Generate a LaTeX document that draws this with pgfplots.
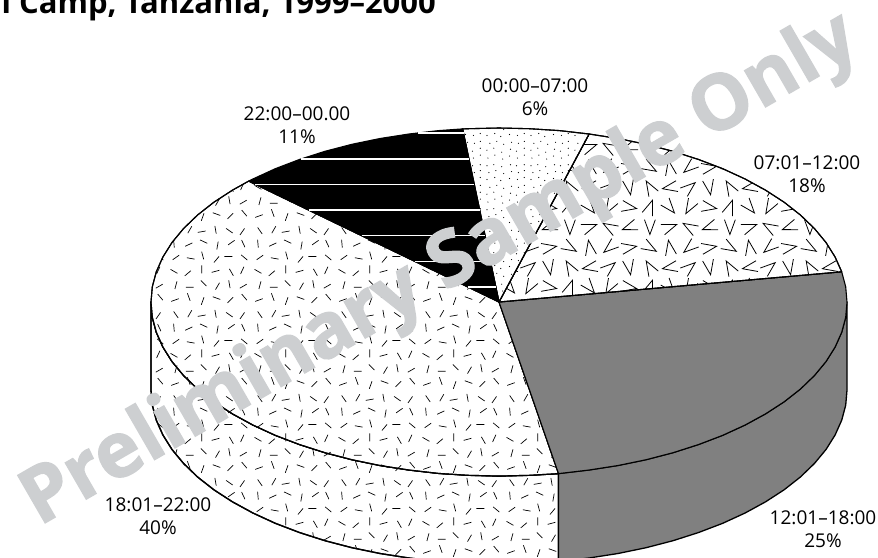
\documentclass[border=0pt]{standalone}
\usepackage{fontspec}
\setmainfont{Open Sans}
\newfontfamily\wmfont[BoldFeatures={FakeBold=1.6}]{Open Sans}
\usepackage{pgfplots}
\pgfplotsset{compat=1.18}
\usetikzlibrary{patterns}
\definecolor{wmgray}{HTML}{CDCFD1}

% short dashes (18:01-22:00)
\pgfdeclarepatternformonly{dashes}{\pgfpointorigin}{\pgfqpoint{84pt}{84pt}}{\pgfqpoint{84pt}{84pt}}{
  \pgfsetlinewidth{0.7pt}
  \foreach \x/\y/\a in {7/6/20,21/9/110,35/5/70,49/8/160,63/6/45,77/9/130,
    8/21/75,22/19/0,36/23/135,50/20/60,62/22/100,76/20/30,
    6/35/150,20/33/40,34/37/90,48/35/15,64/34/120,75/36/65,
    8/49/35,23/48/170,35/51/105,49/47/50,61/50/0,77/49/140,
    6/63/95,21/62/25,36/65/155,50/61/80,64/64/35,76/63/115,
    8/76/125,22/77/60,34/75/10,48/77/100,62/76/145,75/75/55}{
    \begin{pgfscope}
      \pgftransformshift{\pgfpoint{\x pt}{\y pt}}
      \pgftransformrotate{\a}
      \pgfpathmoveto{\pgfqpoint{-4pt}{0pt}}
      \pgfpathlineto{\pgfqpoint{4pt}{0pt}}
      \pgfusepath{stroke}
    \end{pgfscope}
  }
}
% open V marks (07:01-12:00)
\pgfdeclarepatternformonly{vmarks}{\pgfpointorigin}{\pgfqpoint{80pt}{80pt}}{\pgfqpoint{80pt}{80pt}}{
  \pgfsetlinewidth{0.8pt}
  \foreach \x/\y/\a in {10/10/90,30/10/200,50/10/330,70/10/20,
    10/30/250,30/30/130,50/30/60,70/30/170,
    10/50/300,30/50/10,50/50/220,70/50/100,
    10/70/150,30/70/280,50/70/40,70/70/190}{
    \begin{pgfscope}
      \pgftransformshift{\pgfpoint{\x pt}{\y pt}}
      \pgftransformrotate{\a}
      \pgfpathmoveto{\pgfqpoint{7.5pt}{5.5pt}}
      \pgfpathlineto{\pgfqpoint{-7.5pt}{0pt}}
      \pgfpathlineto{\pgfqpoint{7.5pt}{-5.5pt}}
      \pgfusepath{stroke}
    \end{pgfscope}
  }
}
% sparse dots (00:00-07:00)
\pgfdeclarepatternformonly{sparsedots}{\pgfpointorigin}{\pgfqpoint{44pt}{44pt}}{\pgfqpoint{44pt}{44pt}}{
  \foreach \x/\y in {4/3,11/6,19/2,26/5,34/3,41/6,
    3/11,10/13,18/9,27/12,33/10,41/13,
    6/18,13/20,20/17,28/19,35/18,41/20,
    3/26,11/28,17/25,26/27,34/26,41/28,
    5/33,12/35,20/32,28/34,35/33,41/35,
    3/40,10/41,18/39,27/41,33/40,41/41}{
    \pgfpathcircle{\pgfpoint{\x pt}{\y pt}}{0.6pt}
  }
  \pgfusepath{fill}
}

\begin{document}
\begin{tikzpicture}[x=1pt,y=1pt]
\clip (0,0) rectangle (878,557);
\begin{axis}[
  at={(0,0)}, anchor=south west,
  scale only axis, width=878pt, height=557pt,
  xmin=0, xmax=878, ymin=0, ymax=557,
  y dir=reverse,
  hide axis,
  clip=true,
  unbounded coords=jump,
]
% side wall, 40%
\addplot[draw=black, line width=1.3pt, line join=round, fill=white, postaction={pattern=dashes}] coordinates {
  (151,302) (152.3,317.2) (156.3,332.2) (162.9,347.0) (172.0,361.5) (183.6,375.5) (197.6,389.0)
  (213.9,401.8) (232.4,413.8) (252.9,425.0) (275.3,435.3) (299.4,444.5) (325.0,452.7) (351.9,459.7)
  (380.0,465.5) (408.9,470.0) (438.6,473.4) (468.7,475.3) (499,476) (529.3,475.3) (558.5,473.6)
  (558.5,561.6) (529.3,563.3) (499,564) (468.7,563.3) (438.6,561.4) (408.9,558.0) (380.0,553.5)
  (351.9,547.7) (325.0,540.7) (299.4,532.5) (275.3,523.3) (252.9,513.0) (232.4,501.8) (213.9,489.8)
  (197.6,477.0) (183.6,463.5) (172.0,449.5) (162.9,435.0) (156.3,420.2) (152.3,405.2) (151,390)
} -- cycle;
% side wall, 25%
\addplot[draw=black, line width=1.3pt, line join=round, fill=gray] coordinates {
  (558.5,473.6) (589.1,470.0) (618,465.5) (646.1,459.7) (673,452.7) (698.6,444.5) (722.7,435.3)
  (745.1,425.0) (765.6,413.8) (784.1,401.8) (800.4,389.0) (814.4,375.5) (826,361.5) (835.1,347)
  (841.7,332.2) (845.7,317.2) (847,302)
  (847,390) (845.7,405.2) (841.7,420.2) (835.1,435) (826,449.5) (814.4,463.5) (800.4,477)
  (784.1,489.8) (765.6,501.8) (745.1,513) (722.7,523.3) (698.6,532.5) (673,540.7) (646.1,547.7)
  (618,553.5) (589.1,558) (558.5,561.6)
} -- cycle;
% top, 18:01-22:00, 40%
\addplot[draw=black, line width=1.1pt, line join=round, fill=white, postaction={pattern=dashes}] coordinates {
  (499,302) (248.7,181.1) (232.4,190.2) (213.9,202.2) (197.6,215.0) (183.6,228.5) (172.0,242.5)
  (162.9,257.0) (156.3,271.8) (152.3,286.8) (151,302) (152.3,317.2) (156.3,332.2) (162.9,347.0)
  (172.0,361.5) (183.6,375.5) (197.6,389.0) (213.9,401.8) (232.4,413.8) (252.9,425.0) (275.3,435.3)
  (299.4,444.5) (325.0,452.7) (351.9,459.7) (380.0,465.5) (408.9,470.0) (438.6,473.4) (468.7,475.3)
  (499,476) (529.3,475.3) (558.5,473.6)
} -- cycle;
% top, 12:01-18:00, 25%
\addplot[draw=black, line width=1.1pt, line join=round, fill=gray] coordinates {
  (499,302) (558.5,473.6) (589.1,470.0) (618,465.5) (646.1,459.7) (673,452.7) (698.6,444.5)
  (722.7,435.3) (745.1,425.0) (765.6,413.8) (784.1,401.8) (800.4,389.0) (814.4,375.5) (826,361.5)
  (835.1,347) (841.7,332.2) (845.7,317.2) (847,302) (845.7,286.8) (841.7,271.8)
} -- cycle;
% top, 07:01-12:00, 18%
\addplot[draw=black, line width=1.1pt, line join=round, fill=white, postaction={pattern=vmarks}] coordinates {
  (499,302) (841.7,271.8) (835.1,257.0) (826.0,242.5) (814.4,228.5) (800.4,215.0) (784.1,202.2)
  (765.6,190.2) (745.1,179.0) (722.7,168.7) (698.6,159.5) (673.0,151.3) (646.1,144.3) (618.0,138.5)
  (589.1,134.0)
} -- cycle;
% top, 00:00-07:00, 6%
\addplot[draw=black, line width=1.1pt, line join=round, fill=white, postaction={pattern=sparsedots}] coordinates {
  (499,302) (589.1,134.0) (559.4,130.6) (529.3,128.7) (499,128) (468.7,128.7) (462.6,128.9)
} -- cycle;
% top, 22:00-00:00, 11%
\addplot[draw=black, line width=1.1pt, line join=round, fill=black] coordinates {
  (499,302) (462.6,128.9) (438.6,130.6) (408.9,134.0) (380.0,138.5) (351.9,144.3) (325.0,151.3)
  (299.4,159.5) (275.3,168.7) (252.9,179.0) (248.7,181.1)
} -- cycle;
% white rules across the black slice
\addplot[draw=white, line width=1.3pt] coordinates {
  (418,133) (463.5,133) (nan,nan)
  (300.7,159) (468.9,159) (nan,nan)
  (255.3,184.3) (474.2,184.3) (nan,nan)
  (308.5,210) (479.6,210) (nan,nan)
  (361.7,235.7) (485.0,235.7) (nan,nan)
  (414.7,261.3) (490.4,261.3) (nan,nan)
  (467.9,287) (495.8,287)
};

\node[font=\fontsize{19}{23}\selectfont, align=center] at (axis cs:535,97) {00:00–07:00\\6\%};
\node[font=\fontsize{19}{23}\selectfont, align=center] at (axis cs:297,125) {22:00–00.00\\11\%};
\node[font=\fontsize{19}{23}\selectfont, align=center] at (axis cs:807,174) {07:01–12:00\\18\%};
\node[font=\fontsize{19}{23}\selectfont, align=center] at (axis cs:158,516) {18:01–22:00\\40\%};
\node[font=\fontsize{19}{23}\selectfont, align=center] at (axis cs:823,529) {12:01–18:00\\25\%};
\node[font=\fontsize{31}{34}\selectfont\bfseries, anchor=base east, inner sep=0pt] at (axis cs:436,13) {l Camp, Tanzania, 1999–2000};
\node[font=\fontsize{77}{90}\wmfont\selectfont\bfseries, text=wmgray, rotate=30, anchor=base west, inner sep=0pt] at (axis cs:39,526.5) {Preliminary Sample Only};
\end{axis}
\end{tikzpicture}
\end{document}
